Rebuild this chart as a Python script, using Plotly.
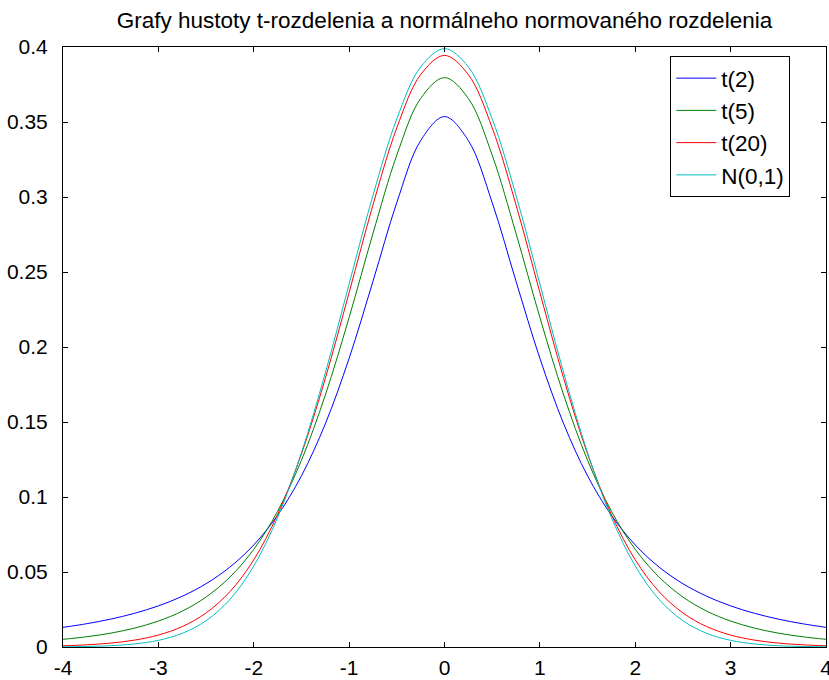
import plotly.graph_objects as go

x_vals = [-4.0, -3.75, -3.5, -3.25, -3.0, -2.75, -2.5, -2.25, -2.0, -1.75, -1.5, -1.25, -1.0, -0.75, -0.5, -0.25,
          0.0, 0.25, 0.5, 0.75, 1.0, 1.25, 1.5, 1.75, 2.0, 2.25, 2.5, 2.75, 3.0, 3.25, 3.5, 3.75, 4.0]

t2_vals = [0.01309, 0.01554, 0.01859, 0.02246, 0.02741, 0.03381, 0.04219, 0.05328, 0.06804, 0.08779, 0.11413,
           0.14872, 0.19245, 0.2438, 0.2963, 0.3376, 0.3536, 0.3376, 0.2963, 0.2438, 0.19245, 0.14872, 0.11413,
           0.08779, 0.06804, 0.05328, 0.04219, 0.03381, 0.02741, 0.02246, 0.01859, 0.01554, 0.01309]

t5_vals = [0.00512, 0.00685, 0.00924, 0.0126, 0.0173, 0.0239, 0.0333, 0.0466, 0.0651, 0.0905, 0.1245, 0.1679,
           0.2197, 0.2757, 0.3279, 0.3657, 0.3796, 0.3657, 0.3279, 0.2757, 0.2197, 0.1679, 0.1245, 0.0905, 0.0651,
           0.0466, 0.0333, 0.0239, 0.0173, 0.0126, 0.00924, 0.00685, 0.00512]

t20_vals = [0.00082, 0.00147, 0.00261, 0.0046, 0.00797, 0.0136, 0.0227, 0.0369, 0.0581, 0.0883, 0.1287, 0.179,
            0.2363, 0.2947, 0.3461, 0.3816, 0.3944, 0.3816, 0.3461, 0.2947, 0.2363, 0.179, 0.1287, 0.0883, 0.0581,
            0.0369, 0.0227, 0.0136, 0.00797, 0.0046, 0.00261, 0.00147, 0.00082]

n01_vals = [0.00013, 0.00035, 0.00087, 0.00203, 0.00443, 0.00909, 0.0175, 0.0317, 0.054, 0.0863, 0.1295, 0.1826,
            0.242, 0.3011, 0.3521, 0.3867, 0.3989, 0.3867, 0.3521, 0.3011, 0.242, 0.1826, 0.1295, 0.0863, 0.054,
            0.0317, 0.0175, 0.00909, 0.00443, 0.00203, 0.00087, 0.00035, 0.00013]

series_names = ["t(2)", "t(5)", "t(20)", "N(0,1)"]
series_colors = ["#0000FF", "#008000", "#FF0000", "#00BFBF"]
series_data = [t2_vals, t5_vals, t20_vals, n01_vals]

x_ticks = [-4, -3, -2, -1, 0, 1, 2, 3, 4]
x_tick_text = ["-4", "-3", "-2", "-1", "0", "1", "2", "3", "4"]
y_ticks = [0, 0.05, 0.1, 0.15, 0.2, 0.25, 0.3, 0.35, 0.4]
y_tick_text = ["0", "0.05", "0.1", "0.15", "0.2", "0.25", "0.3", "0.35", "0.4"]

title_text = "Grafy hustoty t-rozdelenia a normálneho normovaného rozdelenia"

fig = go.Figure()
for name, color, ys in zip(series_names, series_colors, series_data):
    fig.add_trace(go.Scatter(x=x_vals, y=ys, mode="lines", name=name,
                             line=dict(color=color, width=1, shape="spline", smoothing=1.0)))

font_family = "Liberation Sans, Arial, sans-serif"
fig.update_layout(
    width=829, height=680,
    margin=dict(l=63, r=3, t=47, b=33, autoexpand=False),
    paper_bgcolor="white", plot_bgcolor="white",
    title=dict(text=title_text, x=0.5, xref="paper", xanchor="center", y=0.971, yanchor="middle",
               font=dict(family=font_family, size=22.5, color="black")),
    font=dict(family=font_family, size=21, color="black"),
    showlegend=True,
    legend=dict(x=0.796, y=0.985, xanchor="left", yanchor="top", bgcolor="white",
                bordercolor="black", borderwidth=1, font=dict(family=font_family, size=22.5, color="black"),
                tracegroupgap=0, itemwidth=40),
)
fig.update_xaxes(range=[-4, 4], tickvals=x_ticks, ticktext=x_tick_text, ticks="inside", ticklen=5,
                 tickcolor="black", showline=True, linecolor="black", linewidth=1, mirror="allticks",
                 showgrid=False, zeroline=False, tickfont=dict(size=21), ticklabelstandoff=2,
                 ticklabeloverflow="allow", automargin=False)
fig.update_yaxes(range=[0, 0.4], tickvals=y_ticks, ticktext=y_tick_text, ticks="inside", ticklen=5,
                 tickcolor="black", showline=True, linecolor="black", linewidth=1, mirror="allticks",
                 showgrid=False, zeroline=False, tickfont=dict(size=21), ticklabelstandoff=10,
                 ticklabeloverflow="allow", automargin=False)

fig.write_html("out.html", config={"displayModeBar": False},
               post_script="document.body.style.margin='0';document.body.style.overflow='hidden';")
